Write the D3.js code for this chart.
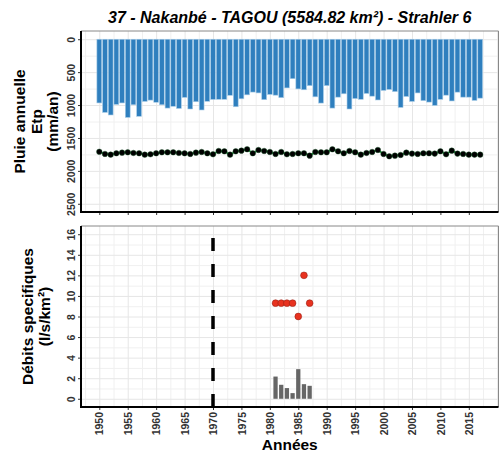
<html>
<head>
    <meta charset="utf-8">
    <script src="https://d3js.org/d3.v7.min.js"></script>
    <title>Nakanbe - Tagou</title>
    <style>
        body { margin: 0; background: #fff; }
        text { font-family: "Liberation Sans", Arial, sans-serif; }
        .grid line { stroke: #e6e6e6; }
        .grid .domain { stroke: none; }
        .minor line { stroke: #f0f0f0; }
        .minor .domain { stroke: none; }
        .tick text { font-weight: bold; fill: #333; font-size: 10.5px; }
    </style>
</head>
<body>
<svg id="chart"></svg>
<script>
    // data
    const years = [1950, 1951, 1952, 1953, 1954, 1955, 1956, 1957, 1958, 1959,
                   1960, 1961, 1962, 1963, 1964, 1965, 1966, 1967, 1968, 1969,
                   1970, 1971, 1972, 1973, 1974, 1975, 1976, 1977, 1978, 1979,
                   1980, 1981, 1982, 1983, 1984, 1985, 1986, 1987, 1988, 1989,
                   1990, 1991, 1992, 1993, 1994, 1995, 1996, 1997, 1998, 1999,
                   2000, 2001, 2002, 2003, 2004, 2005, 2006, 2007, 2008, 2009,
                   2010, 2011, 2012, 2013, 2014, 2015, 2016, 2017];
    // pluie annuelle (mm/an)
    const pluie = [968, 1112, 1151, 991, 968, 1188, 996, 1171, 945, 925,
                   958, 996, 1046, 1019, 1052, 884, 1060, 950, 1075, 943,
                   915, 913, 913, 852, 1026, 905, 845, 803, 816, 918,
                   839, 850, 888, 740, 600, 755, 768, 705, 875, 970,
                   705, 1046, 880, 829, 1060, 902, 913, 824, 865, 923,
                   778, 763, 796, 1036, 870, 945, 816, 933, 955, 1006,
                   913, 850, 938, 804, 880, 880, 930, 895];
    // Etp (mm/an)
    const etp = [1710, 1743, 1754, 1733, 1723, 1718, 1728, 1733, 1754, 1748,
                 1733, 1718, 1718, 1718, 1728, 1733, 1743, 1723, 1713, 1733,
                 1748, 1698, 1703, 1754, 1703, 1693, 1672, 1733, 1683, 1698,
                 1713, 1743, 1713, 1748, 1743, 1733, 1733, 1769, 1713, 1718,
                 1718, 1672, 1703, 1733, 1698, 1718, 1754, 1728, 1713, 1683,
                 1743, 1779, 1769, 1759, 1723, 1738, 1743, 1733, 1733, 1738,
                 1703, 1748, 1693, 1738, 1743, 1754, 1754, 1754];

    // debits specifiques (l/s/km2)
    const qYears = [1981, 1982, 1983, 1984, 1985, 1986, 1987];
    const qPoints = [9.3, 9.3, 9.3, 9.3, 8.0, 12.0, 9.3];
    const qBars = [2.16, 1.36, 1.04, 0.55, 2.88, 1.42, 1.26];
    const ruptureYear = 1970;

    const xTicks = [1950, 1955, 1960, 1965, 1970, 1975, 1980, 1985, 1990, 1995, 2000, 2005, 2010, 2015];
    const topTicks = [0, 500, 1000, 1500, 2000, 2500];
    const botTicks = [0, 2, 4, 6, 8, 10, 12, 14, 16];

    const width = 499, height = 457;
    let svg = d3.select("svg#chart").attr("width", width).attr("height", height);

    const left = 81, right = 498.5;
    const top1 = 31, bot1 = 212;
    const top2 = 226, bot2 = 407;

    const xScale = d3.scaleLinear().domain([1946.78, 2020.22]).range([left, right]);
    const yTop = d3.scaleLinear().domain([-125, 2625]).range([top1, bot1]);
    const yBot = d3.scaleLinear().domain([-0.8, 16.8]).range([bot2, top2]);

    const xMinor = d3.range(1947.5, 2020, 5);

    function drawPanel(yScale, yMajor, yMinor, yTopPx, yBotPx) {
        // minor gridlines
        svg.append('g').attr('class', 'minor')
           .attr('transform', `translate(0, ${yTopPx})`)
           .call(d3.axisTop(xScale).tickValues(xMinor).tickSize(-(yBotPx - yTopPx)).tickFormat(''));
        svg.append('g').attr('class', 'minor')
           .attr('transform', `translate(${left}, 0)`)
           .call(d3.axisLeft(yScale).tickValues(yMinor).tickSize(-(right - left)).tickFormat(''));
        // major gridlines
        svg.append('g').attr('class', 'grid')
           .attr('transform', `translate(0, ${yTopPx})`)
           .call(d3.axisTop(xScale).tickValues(xTicks.concat([2020])).tickSize(-(yBotPx - yTopPx)).tickFormat(''));
        svg.append('g').attr('class', 'grid')
           .attr('transform', `translate(${left}, 0)`)
           .call(d3.axisLeft(yScale).tickValues(yMajor).tickSize(-(right - left)).tickFormat(''));

        // y axis with rotated labels
        let yAx = svg.append('g')
           .attr('transform', `translate(${left}, 0)`)
           .call(d3.axisLeft(yScale).tickValues(yMajor).tickSize(3).tickPadding(5).tickFormat(d3.format('d')));
        yAx.select('.domain').remove();
        yAx.selectAll('.tick line').attr('stroke', '#333');
        yAx.selectAll('.tick text')
           .attr('text-anchor', 'middle')
           .attr('transform', 'rotate(-90)')
           .attr('x', 0).attr('y', -6.5).attr('dy', 0);

        // border
        svg.append('path')
           .attr('d', `M${left},${yTopPx}H${right}V${yBotPx}`)
           .attr('fill', 'none').attr('stroke', '#888').attr('stroke-width', 1);
    }

    drawPanel(yTop, topTicks, [250, 750, 1250, 1750, 2250], top1, bot1);
    drawPanel(yBot, botTicks, [1, 3, 5, 7, 9, 11, 13, 15], top2, bot2);

    // top panel: pluie bars
    const barW = (xScale(1) - xScale(0)) * 0.85;
    let topPanel = svg.append('g');
    years.forEach((yr, i) => {
        topPanel.append('rect')
           .attr('x', xScale(yr) - barW / 2)
           .attr('y', yTop(0))
           .attr('width', barW)
           .attr('height', yTop(pluie[i]) - yTop(0))
           .attr('fill', '#2f7fbe')
           .attr('stroke', '#a9cde8')
           .attr('stroke-width', 0.6);
    });

    // etp line and points
    const etpLine = d3.line().x((d, i) => xScale(years[i])).y(d => yTop(d));
    topPanel.append('path').datum(etp)
       .attr('d', etpLine)
       .attr('fill', 'none').attr('stroke', '#1f9e3f').attr('stroke-width', 1.8);
    etp.forEach((v, i) => {
        topPanel.append('circle')
           .attr('cx', xScale(years[i])).attr('cy', yTop(v)).attr('r', 2.8)
           .attr('fill', '#000').attr('stroke', '#1a5c2a').attr('stroke-width', 0.4);
    });

    // bottom panel
    let botPanel = svg.append('g');
    const qW = (xScale(1) - xScale(0)) * 0.75;
    qYears.forEach((yr, i) => {
        botPanel.append('rect')
           .attr('x', xScale(yr) - qW / 2)
           .attr('y', yBot(qBars[i]))
           .attr('width', qW)
           .attr('height', yBot(0) - yBot(qBars[i]))
           .attr('fill', '#666');
    });
    botPanel.append('line')
       .attr('x1', xScale(ruptureYear)).attr('x2', xScale(ruptureYear))
       .attr('y1', bot2).attr('y2', top2)
       .attr('stroke', '#000').attr('stroke-width', 3.5)
       .attr('stroke-dasharray', '13,13');
    qYears.forEach((yr, i) => {
        botPanel.append('circle')
           .attr('cx', xScale(yr)).attr('cy', yBot(qPoints[i])).attr('r', 3.4)
           .attr('fill', '#e8321f').attr('stroke', '#8a1d12').attr('stroke-width', 0.5);
    });

    // x axis (bottom panel only has labels)
    svg.append('g')
       .attr('transform', `translate(0, ${bot1})`)
       .call(d3.axisBottom(xScale).tickValues(xTicks).tickSize(3).tickFormat(''))
       .call(g => g.select('.domain').remove())
       .call(g => g.selectAll('.tick line').attr('stroke', '#333'));
    let xAx = svg.append('g')
       .attr('transform', `translate(0, ${bot2})`)
       .call(d3.axisBottom(xScale).tickValues(xTicks).tickSize(3).tickFormat(d3.format('d')));
    xAx.select('.domain').remove();
    xAx.selectAll('.tick line').attr('stroke', '#333');
    xAx.selectAll('.tick text')
       .attr('text-anchor', 'end')
       .attr('transform', 'rotate(-90)')
       .attr('x', -5).attr('y', 0).attr('dy', '0.35em');

    // thick axis lines
    [[top1, bot1], [top2, bot2]].forEach(p => {
        svg.append('path')
           .attr('d', `M${left},${p[0]}V${p[1]}H${right}`)
           .attr('fill', 'none').attr('stroke', '#000').attr('stroke-width', 2);
    });

    // titles
    svg.append('text')
       .attr('x', (left + right) / 2).attr('y', 23)
       .attr('text-anchor', 'middle')
       .style('font-size', '16px').style('font-weight', 'bold').style('font-style', 'italic')
       .text('37 - Nakanbé - TAGOU (5584.82 km²) - Strahler 6');

    function yTitle(lines, xs, cy) {
        lines.forEach((t, i) => {
            svg.append('text')
               .attr('transform', `translate(${xs[i]}, ${cy}) rotate(-90)`)
               .attr('text-anchor', 'middle')
               .style('font-size', '15.5px').style('font-weight', 'bold')
               .text(t);
        });
    }
    yTitle(['Pluie annuelle', 'Etp', '(mm/an)'], [25, 41.7, 58.3], (top1 + bot1) / 2);
    yTitle(['Débits specifiques', '(l/s/km²)'], [33, 50], (top2 + bot2) / 2);

    svg.append('text')
       .attr('x', (left + right) / 2).attr('y', 450)
       .attr('text-anchor', 'middle')
       .style('font-size', '15.5px').style('font-weight', 'bold')
       .text('Années');
</script>
</body>
</html>
